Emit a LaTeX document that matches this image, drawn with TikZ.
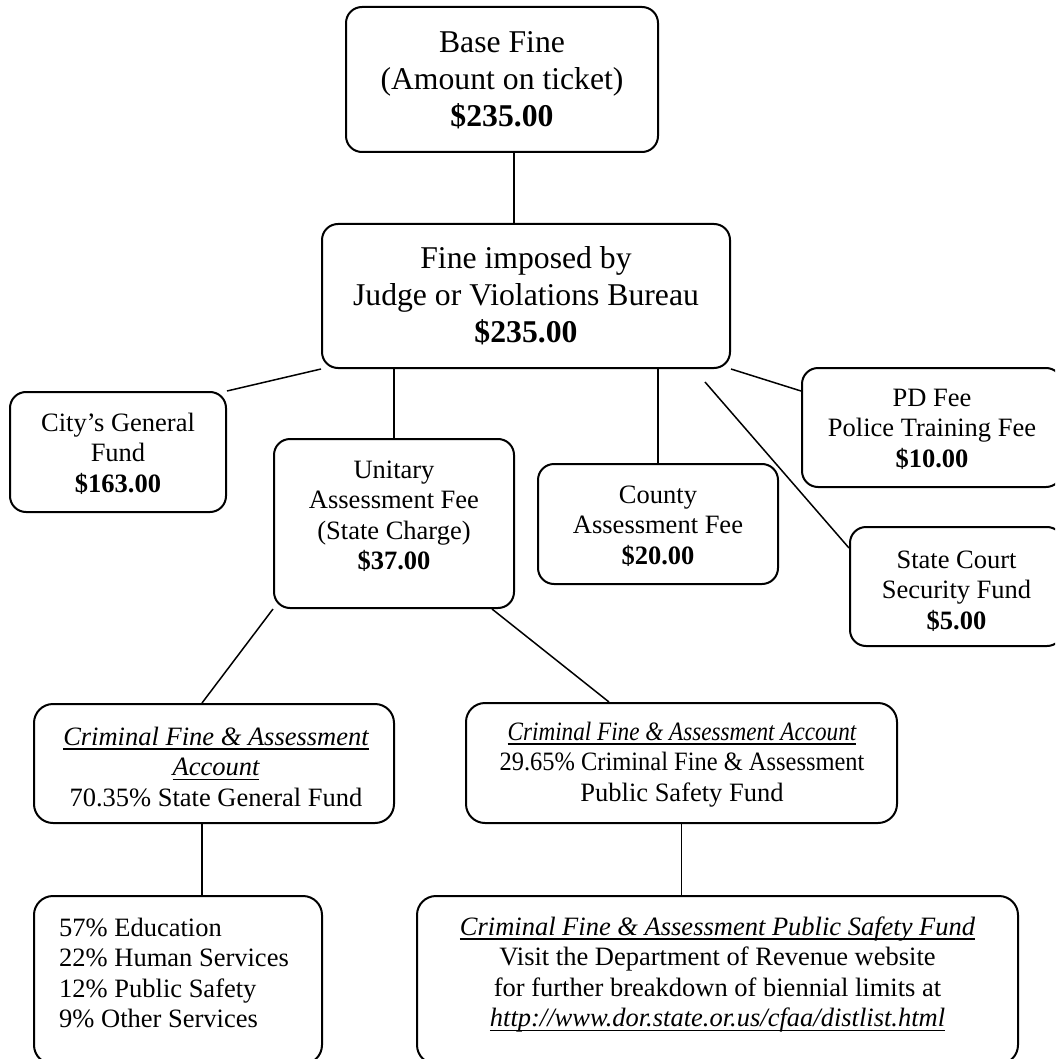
\documentclass[tikz,border=0pt]{standalone}
\usepackage{fontspec}
\setmainfont{Liberation Serif}
\usepackage{graphicx}
\newcommand\myul[1]{\leavevmode\setbox0=\hbox{#1}\rlap{\rule[-4.5pt]{\wd0}{1.4pt}}\box0}
\begin{document}
\begin{tikzpicture}[x=1pt,y=-1pt,
  box/.style={draw, line width=2pt, rounded corners=16pt, inner sep=0pt},
  bigbox/.style={box, rounded corners=19pt},
  conn/.style={line width=1.5pt},
  tbig/.style={font=\fontsize{31.7}{37}\selectfont, align=center, inner sep=0pt, anchor=north},
  tsm/.style={font=\fontsize{26.5}{30.5}\selectfont, align=center, inner sep=0pt, anchor=north}]
\useasboundingbox (0,0) rectangle (1055,1059);
\clip (0,0) rectangle (1055,1059);

% boxes
\node[box, minimum width=312pt, minimum height=145pt] (base) at (502,79.5) {};
\node[box, minimum width=408pt, minimum height=144pt] (fine) at (526,296) {};
\node[box, minimum width=216pt, minimum height=120pt] (city) at (118,452) {};
\node[box, minimum width=240pt, minimum height=169pt] (unit) at (394,523.5) {};
\node[box, minimum width=240pt, minimum height=120pt] (county) at (658,524) {};
\node[box, minimum width=260pt, minimum height=119pt] (pd) at (932,427.5) {};
\node[box, minimum width=213pt, minimum height=119pt] (state) at (956.5,586.5) {};
\node[bigbox, minimum width=360pt, minimum height=119pt] (ll) at (214,763.5) {};
\node[bigbox, minimum width=431pt, minimum height=120pt] (lr) at (681.5,763) {};
\node[bigbox, minimum width=288pt, minimum height=168pt] (bl) at (178,980) {};
\node[bigbox, minimum width=601pt, minimum height=168pt] (br) at (717.5,980) {};

% texts
\node[tbig] (baseT) at (502,26.1) {\strut Base Fine\\\strut (Amount on ticket)\\\strut\textbf{\$235.00}};
\node[tbig] (fineT) at (526,242.1) {\strut Fine imposed by\\\strut Judge or Violations Bureau\\\strut\textbf{\$235.00}};
\node[tsm] (cityT) at (118,409.65) {\strut City’s General\\\strut Fund\\\strut\textbf{\$163.00}};
\node[tsm] (unitT) at (394,456.65) {\strut Unitary\\\strut Assessment Fee\\\strut (State Charge)\\\strut\textbf{\$37.00}};
\node[tsm] (countyT) at (658,481.65) {\strut County\\\strut Assessment Fee\\\strut\textbf{\$20.00}};
\node[tsm] (pdT) at (932,384.65) {\strut PD Fee\\\strut Police Training Fee\\\strut\textbf{\$10.00}};
\node[tsm] (stateT) at (956.5,546.65) {\strut State Court\\\strut Security Fund\\\strut\textbf{\$5.00}};
\node[tsm] (llT) at (216,723.65) {\strut\myul{\itshape Criminal Fine \& Assessment}\\\strut\myul{\itshape Account}\\\strut 70.35\% State General Fund};
\node[tsm] (lrT) at (682,718.65) {\strut\scalebox{0.874}[1]{\myul{\itshape Criminal Fine \& Assessment Account}}\\\strut\scalebox{0.923}[1]{29.65\% Criminal Fine \& Assessment}\hspace{17pt}\\\strut Public Safety Fund};
\node[tsm, align=left, anchor=north west] (blT) at (59,914.65) {\strut 57\% Education\\\strut 22\% Human Services\\\strut 12\% Public Safety\\\strut 9\% Other Services};
\node[tsm] (brT) at (717.5,913.65) {\strut\myul{\itshape Criminal Fine \& Assessment Public Safety Fund}\\\strut Visit the Department of Revenue website\hspace{9pt}\\\strut for further breakdown of biennial limits at\\\strut\myul{\itshape http://www.dor.state.or.us/cfaa/distlist.html}};

% connectors
\coordinate (sfree) at (705,382);
\draw[conn] ([xshift=12pt]base.south) -- ([xshift=12pt]base.south |- fine.north);
\draw[conn] (fine.south west) -- (city.north east);
\draw[conn] (unit.north |- fine.south) -- (unit.north);
\draw[conn] (county.north |- fine.south) -- (county.north);
\draw[conn] (fine.south east) -- ([yshift=-24pt]pd.north west);
\draw[conn] (sfree) -- ([yshift=-22pt]state.north west);
\draw[conn] (unit.south west) -- ([xshift=-12pt]ll.north);
\draw[conn] ([xshift=-23pt]unit.south east) -- ([xshift=-72.5pt]lr.north);
\draw[conn] ([xshift=-12pt]ll.south) -- ([xshift=-12pt]ll.south |- bl.north);
\draw[conn] (lr.south) -- (lr.south |- br.north);
\end{tikzpicture}
\end{document}
